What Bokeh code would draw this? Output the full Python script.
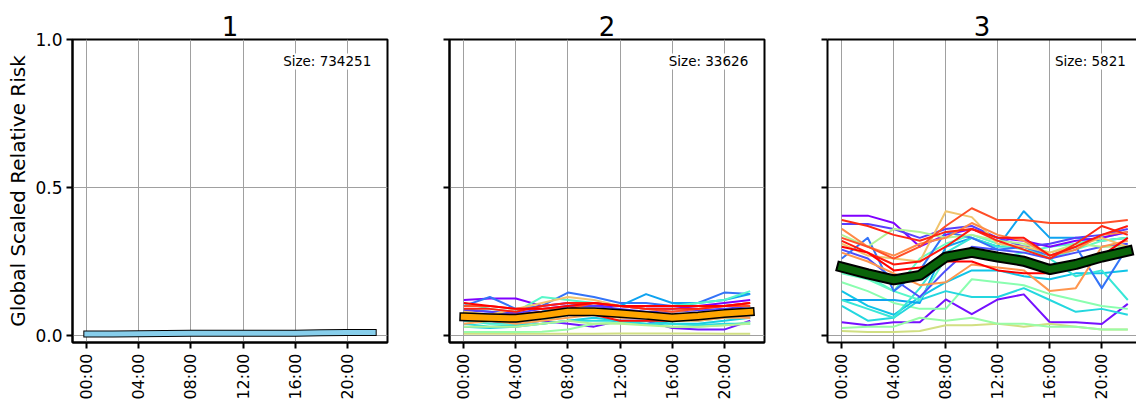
import math
from bokeh.plotting import figure
from bokeh.layouts import row
from bokeh.models import FixedTicker, NumeralTickFormatter, Label, LinearAxis, Range1d, Title
from bokeh.embed import file_html
from bokeh.resources import INLINE

# ---------------- data ----------------
hours = [0, 2, 4, 6, 8, 10, 12, 14, 16, 18, 20, 22]
tick_hours = [0, 4, 8, 12, 16, 20]
tick_labels = ["00:00", "04:00", "08:00", "12:00", "16:00", "20:00"]
y_ticks = [0.0, 0.5, 1.0]
titles = ["1", "2", "3"]
sizes = [734251, 33626, 5821]

mean_1 = [0.005, 0.005, 0.006, 0.007, 0.008, 0.008, 0.008, 0.008, 0.008, 0.009, 0.010, 0.010]
mean_2 = [0.063, 0.060, 0.058, 0.068, 0.080, 0.080, 0.074, 0.068, 0.060, 0.066, 0.074, 0.080]
mean_3 = [0.231, 0.208, 0.188, 0.203, 0.265, 0.281, 0.265, 0.251, 0.223, 0.240, 0.265, 0.285]

cluster2_series = [
    [0.050, 0.050, 0.040, 0.050, 0.040, 0.030, 0.050, 0.050, 0.025, 0.020, 0.020, 0.050],
    [0.006, 0.006, 0.006, 0.006, 0.006, 0.006, 0.007, 0.007, 0.007, 0.007, 0.006, 0.006],
    [0.012, 0.012, 0.012, 0.013, 0.020, 0.040, 0.045, 0.040, 0.030, 0.030, 0.035, 0.045],
    [0.030, 0.025, 0.030, 0.040, 0.050, 0.060, 0.050, 0.050, 0.040, 0.040, 0.050, 0.060],
    [0.040, 0.030, 0.035, 0.040, 0.050, 0.050, 0.050, 0.040, 0.040, 0.035, 0.040, 0.040],
    [0.030, 0.030, 0.030, 0.040, 0.050, 0.040, 0.040, 0.035, 0.030, 0.030, 0.035, 0.040],
    [0.050, 0.040, 0.040, 0.050, 0.070, 0.080, 0.070, 0.060, 0.050, 0.050, 0.060, 0.060],
    [0.070, 0.060, 0.060, 0.060, 0.070, 0.080, 0.070, 0.070, 0.060, 0.065, 0.070, 0.070],
    [0.040, 0.050, 0.040, 0.050, 0.060, 0.070, 0.060, 0.060, 0.050, 0.050, 0.060, 0.060],
    [0.120, 0.125, 0.125, 0.100, 0.110, 0.100, 0.100, 0.090, 0.090, 0.100, 0.110, 0.120],
    [0.100, 0.130, 0.090, 0.100, 0.145, 0.130, 0.110, 0.110, 0.100, 0.110, 0.145, 0.140],
    [0.090, 0.080, 0.070, 0.080, 0.100, 0.110, 0.100, 0.140, 0.110, 0.110, 0.120, 0.140],
    [0.110, 0.090, 0.080, 0.130, 0.120, 0.110, 0.100, 0.100, 0.100, 0.110, 0.120, 0.150],
    [0.085, 0.080, 0.075, 0.090, 0.100, 0.100, 0.090, 0.080, 0.080, 0.085, 0.090, 0.100],
    [0.080, 0.070, 0.090, 0.110, 0.130, 0.120, 0.100, 0.090, 0.080, 0.090, 0.100, 0.110],
    [0.070, 0.060, 0.050, 0.060, 0.080, 0.090, 0.080, 0.070, 0.060, 0.060, 0.070, 0.060],
    [0.100, 0.100, 0.090, 0.090, 0.090, 0.110, 0.100, 0.090, 0.080, 0.090, 0.100, 0.100],
    [0.060, 0.070, 0.070, 0.080, 0.070, 0.070, 0.050, 0.050, 0.050, 0.055, 0.070, 0.080],
    [0.090, 0.090, 0.080, 0.100, 0.110, 0.110, 0.100, 0.090, 0.090, 0.090, 0.100, 0.110],
    [0.110, 0.100, 0.090, 0.090, 0.100, 0.110, 0.100, 0.100, 0.100, 0.100, 0.100, 0.110],
]

cluster3_series = [
    [0.045, 0.035, 0.045, 0.045, 0.122, 0.072, 0.122, 0.139, 0.045, 0.045, 0.039, 0.107],
    [0.015, 0.012, 0.012, 0.015, 0.035, 0.035, 0.040, 0.030, 0.040, 0.030, 0.020, 0.020],
    [0.025, 0.030, 0.030, 0.060, 0.050, 0.060, 0.040, 0.040, 0.030, 0.030, 0.020, 0.020],
    [0.180, 0.150, 0.110, 0.090, 0.090, 0.190, 0.180, 0.170, 0.140, 0.120, 0.100, 0.090],
    [0.100, 0.050, 0.060, 0.120, 0.150, 0.130, 0.130, 0.160, 0.120, 0.080, 0.090, 0.070],
    [0.150, 0.100, 0.070, 0.130, 0.180, 0.220, 0.220, 0.200, 0.190, 0.210, 0.210, 0.220],
    [0.120, 0.120, 0.120, 0.110, 0.300, 0.330, 0.300, 0.420, 0.330, 0.330, 0.320, 0.330],
    [0.120, 0.090, 0.060, 0.160, 0.280, 0.330, 0.300, 0.300, 0.260, 0.200, 0.220, 0.120],
    [0.220, 0.200, 0.150, 0.120, 0.260, 0.280, 0.260, 0.280, 0.300, 0.310, 0.330, 0.350],
    [0.210, 0.190, 0.150, 0.260, 0.310, 0.340, 0.310, 0.290, 0.260, 0.290, 0.320, 0.330],
    [0.405, 0.405, 0.380, 0.300, 0.340, 0.360, 0.330, 0.320, 0.300, 0.320, 0.330, 0.350],
    [0.377, 0.377, 0.360, 0.330, 0.360, 0.370, 0.330, 0.300, 0.310, 0.330, 0.340, 0.360],
    [0.290, 0.260, 0.190, 0.130, 0.220, 0.300, 0.290, 0.280, 0.260, 0.280, 0.300, 0.310],
    [0.260, 0.330, 0.150, 0.220, 0.350, 0.330, 0.290, 0.300, 0.270, 0.300, 0.160, 0.300],
    [0.340, 0.300, 0.360, 0.350, 0.330, 0.340, 0.320, 0.310, 0.280, 0.310, 0.300, 0.300],
    [0.310, 0.270, 0.260, 0.250, 0.420, 0.400, 0.310, 0.300, 0.280, 0.300, 0.330, 0.300],
    [0.280, 0.250, 0.210, 0.170, 0.180, 0.240, 0.230, 0.220, 0.150, 0.160, 0.300, 0.320],
    [0.360, 0.300, 0.270, 0.310, 0.330, 0.380, 0.340, 0.320, 0.270, 0.290, 0.340, 0.350],
    [0.330, 0.300, 0.260, 0.300, 0.370, 0.430, 0.390, 0.390, 0.380, 0.380, 0.380, 0.390],
    [0.390, 0.370, 0.340, 0.320, 0.350, 0.360, 0.320, 0.290, 0.260, 0.310, 0.370, 0.340],
    [0.320, 0.280, 0.240, 0.250, 0.300, 0.360, 0.330, 0.330, 0.270, 0.300, 0.340, 0.370],
    [0.300, 0.280, 0.220, 0.230, 0.250, 0.250, 0.220, 0.210, 0.210, 0.230, 0.270, 0.330],
]

# ---------------- styles ----------------
cluster2_cmap_pos = [0.03, 0.66, 0.55, 0.30, 0.33, 0.60, 0.38, 0.45, 0.78, 0.0, 0.15,
                     0.22, 0.42, 0.08, 0.72, 0.80, 0.90, 0.98, 0.96, 1.0]
cluster3_cmap_pos = [0.02, 0.66, 0.55, 0.52, 0.32, 0.28, 0.22, 0.36, 0.42, 0.45, 0.0,
                     0.08, 0.10, 0.15, 0.60, 0.72, 0.80, 0.82, 0.90, 0.95, 0.97, 1.0]


def rainbow(t):
    r = min(1.0, abs(2 * t - 0.5))
    g = math.sin(math.pi * t)
    b = math.cos(math.pi * t / 2)
    return "#%02x%02x%02x" % tuple(int(round(max(0.0, min(1.0, c)) * 255)) for c in (r, g, b))


FONT = "DejaVu Sans"
TOTAL_H = 403
BORDER_TOP = 39
BORDER_BOTTOM = 61


def style_axes(p, show_ylabels):
    p.background_fill_color = "white"
    p.border_fill_color = "white"
    p.xgrid.ticker = FixedTicker(ticks=tick_hours)
    p.ygrid.ticker = FixedTicker(ticks=y_ticks)
    for g in (p.xgrid, p.ygrid):
        g.grid_line_color = "#a0a0a0"
        g.grid_line_width = 1
    p.xaxis.ticker = FixedTicker(ticks=tick_hours)
    p.xaxis.major_label_overrides = dict(zip(tick_hours, tick_labels))
    p.xaxis.major_label_orientation = math.pi / 2
    p.yaxis.ticker = FixedTicker(ticks=y_ticks)
    p.yaxis.formatter = NumeralTickFormatter(format="0.0")
    for ax in (p.xaxis, p.yaxis):
        ax.axis_line_color = "black"
        ax.axis_line_width = 2
        ax.major_tick_line_color = "black"
        ax.major_tick_line_width = 2
        ax.major_tick_out = 6
        ax.major_tick_in = 0
        ax.minor_tick_line_color = None
        ax.major_label_text_font = FONT
        ax.major_label_text_font_size = "17px"
        ax.major_label_text_color = "black"
        ax.major_label_standoff = 4
    p.xaxis.major_label_text_font_size = "16px"
    p.xaxis.major_label_standoff = 5
    if not show_ylabels:
        p.yaxis.major_label_text_font_size = "0px"
        p.yaxis.major_label_text_color = None
    else:
        p.yaxis.axis_label = "Global Scaled Relative Risk"
        p.yaxis.axis_label_text_font = FONT
        p.yaxis.axis_label_text_font_size = "20px"
        p.yaxis.axis_label_text_font_style = "normal"
        p.yaxis.axis_label_text_color = "black"
        p.yaxis.axis_label_standoff = 2


def make_title(text):
    return Title(text=text, align="center", text_font=FONT, text_font_size="26px",
                 text_font_style="normal", text_color="black", standoff=8)


def make_panel(idx, width, left, right, x_end, series, cmap_pos, mean, mean_color,
               w_out, w_in, show_ylabels, clipped_right=False):
    p = figure(width=width, height=TOTAL_H,
               x_range=Range1d(-1.1, x_end), y_range=Range1d(-0.0236, 1.0),
               output_backend="svg", toolbar_location=None, title=None,
               min_border_left=left, min_border_right=right,
               min_border_top=BORDER_TOP, min_border_bottom=BORDER_BOTTOM)
    style_axes(p, show_ylabels)
    if clipped_right:
        p.outline_line_color = None
        top = LinearAxis(ticker=FixedTicker(ticks=[]), major_tick_out=0, major_tick_in=0,
                         major_label_standoff=0, major_label_text_font_size="0px",
                         axis_line_color="black", axis_line_width=2,
                         minor_tick_line_color=None)
        p.add_layout(top, "above")
    else:
        p.outline_line_color = "black"
        p.outline_line_width = 2
        p.outline_line_alpha = 1.0
    p.add_layout(make_title(titles[idx]), "above")

    for s, c in zip(series, cmap_pos):
        p.line(hours, s, line_color=rainbow(c), line_width=2.0, line_join="round")
    p.line(hours, mean, line_color="black", line_width=w_out, line_cap="square", line_join="round")
    p.line(hours, mean, line_color=mean_color, line_width=w_in, line_cap="square", line_join="round")

    lab = Label(x=21.85, y=0.926, text="Size: %d" % sizes[idx], text_align="right",
                text_baseline="middle", text_font=FONT, text_font_size="13.5px",
                text_color="black", background_fill_color="white")
    p.add_layout(lab)
    return p


p1 = make_panel(0, 409, 72, 22, 23.1, [], [], mean_1, "#87ceeb", 7, 5, True)
p2 = make_panel(1, 378, 40, 23, 23.1, cluster2_series, cluster2_cmap_pos, mean_2, "#ffa500", 9, 6, False)
p3 = make_panel(2, 349, 40, 0, 22.67, cluster3_series, cluster3_cmap_pos, mean_3, "#0a640a", 11, 7, False,
                clipped_right=True)

layout = row(p1, p2, p3)
open("out.html", "w").write(file_html(layout, INLINE))
